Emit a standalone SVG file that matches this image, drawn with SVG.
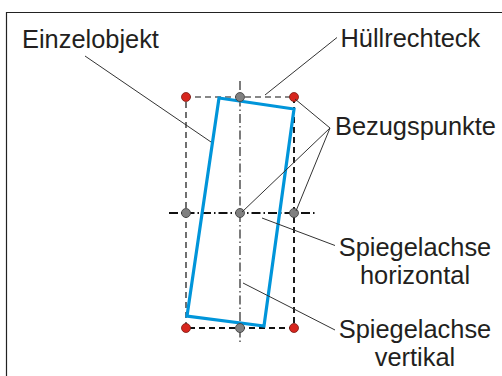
<svg xmlns="http://www.w3.org/2000/svg" width="502" height="376" viewBox="0 0 502 376">
<style>
.lbl{font-family:"Liberation Sans",Arial,sans-serif;font-size:25.4px;fill:#231f20}
.lead{stroke:#333;stroke-width:1;fill:none}
.red{fill:#d7261e;stroke:#7a1a14;stroke-width:0.8}
.gray{fill:#808080;stroke:#3a3a3a;stroke-width:0.8}
.hull{stroke:#111;fill:none;stroke-dasharray:6 4}
.axis{stroke:#111;fill:none;stroke-dasharray:9 3 1.5 3}
</style>
<rect width="502" height="376" fill="#fff"/>
<path d="M6.5 376V12.5H502" fill="none" stroke="#222" stroke-width="1.2"/>
<g id="hullrechteck">
<path class="hull" stroke-width="1.2" d="M186 328V97H294"/>
<path class="hull" stroke-width="1.9" d="M294 97V328H186"/>
</g>
<g id="achsen">
<line class="axis" stroke-width="1.1" x1="240" y1="81" x2="240" y2="344"/>
<line class="axis" stroke-width="1.9" x1="169" y1="213" x2="317" y2="213"/>
</g>
<g id="einzelobjekt">
<polygon points="219,98 294,109 264,326 187,316" fill="none" stroke="#0095da" stroke-width="3.2" stroke-linejoin="miter"/>
</g>
<g id="bezugspunkte">
<circle class="red" cx="186" cy="97" r="4.5"/>
<circle class="gray" cx="240" cy="97" r="4.5"/>
<circle class="red" cx="294" cy="97" r="4.5"/>
<circle class="gray" cx="186" cy="213" r="4.5"/>
<circle class="gray" cx="240" cy="213" r="4.5"/>
<circle class="gray" cx="294" cy="213" r="4.5"/>
<circle class="red" cx="186" cy="328" r="4.5"/>
<circle class="gray" cx="240" cy="328" r="4.5"/>
<circle class="red" cx="294" cy="328" r="4.5"/>
</g>
<g id="connectors">
<line class="lead" x1="85" y1="56" x2="211" y2="142"/>
<line class="lead" x1="337" y1="37.5" x2="265" y2="95"/>
<line class="lead" x1="330" y1="128" x2="295" y2="99"/>
<line class="lead" x1="330" y1="128" x2="242" y2="212"/>
<line class="lead" x1="330" y1="128" x2="296" y2="211"/>
<line class="lead" x1="262" y1="218" x2="335" y2="245.5"/>
<line class="lead" x1="243" y1="283" x2="335" y2="330"/>
</g>
<g id="labels">
<text class="lbl" x="22" y="48">Einzelobjekt</text>
<text class="lbl" x="340.5" y="46.5">Hüllrechteck</text>
<text class="lbl" x="335" y="135">Bezugspunkte</text>
<text class="lbl" x="415" y="255.5" text-anchor="middle">Spiegelachse</text>
<text class="lbl" x="415" y="283.5" text-anchor="middle">horizontal</text>
<text class="lbl" x="415" y="338" text-anchor="middle">Spiegelachse</text>
<text class="lbl" x="415" y="366" text-anchor="middle">vertikal</text>
</g>
</svg>
